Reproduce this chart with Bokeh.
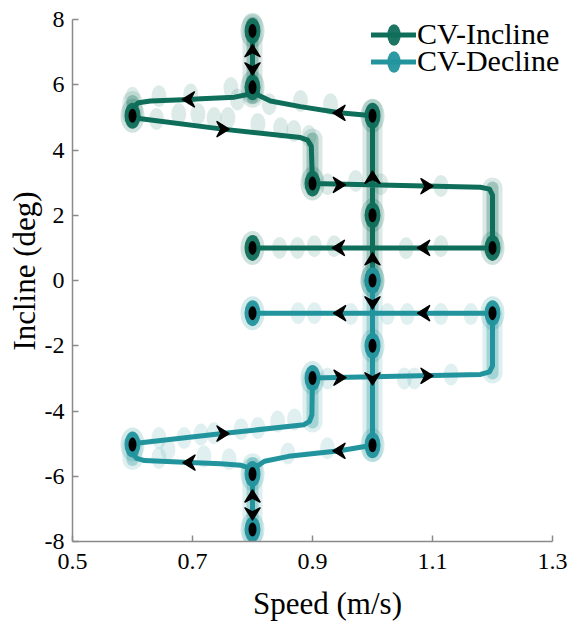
from bokeh.plotting import figure
from bokeh.models import (Legend, LegendItem, Range1d, FixedTicker)
from bokeh.embed import file_html
from bokeh.resources import INLINE

# ---------------- data ----------------
x_ticks = [0.5, 0.7, 0.9, 1.1, 1.3]
x_tick_labels = ["0.5", "0.7", "0.9", "1.1", "1.3"]
y_ticks = [-8, -6, -4, -2, 0, 2, 4, 6, 8]
y_tick_labels = ["-8", "-6", "-4", "-2", "0", "2", "4", "6", "8"]

series_names = ["CV-Incline", "CV-Decline"]

# trajectory of the CV-Incline condition (speed m/s, incline deg)
inc_path_x = [1.0, 1.0, 1.0, 0.945, 0.88, 0.83, 0.81, 0.8, 0.8, 0.8, 0.792, 0.77, 0.714,
              0.694, 0.63, 0.61, 0.601, 0.6, 0.614, 0.75, 0.88, 0.892, 0.898, 0.9,
              1.18, 1.195, 1.2, 1.2, 1.0, 0.8]
inc_path_y = [0.0, 2.0, 5.05, 5.14, 5.33, 5.5, 5.68, 5.92, 7.65, 5.92, 5.7, 5.62, 5.57,
              5.55, 5.5, 5.45, 5.3, 5.05, 4.96, 4.64, 4.38, 4.3, 4.12, 2.97,
              2.86, 2.8, 2.62, 1.0, 1.0, 1.0]

# trajectory of the CV-Decline condition
dec_path_x = [1.0, 1.0, 1.0, 0.945, 0.86, 0.82, 0.803, 0.8, 0.8, 0.8, 0.795, 0.78, 0.747,
              0.695, 0.62, 0.607, 0.6, 0.6, 0.614, 0.75, 0.886, 0.895, 0.899, 0.9,
              1.18, 1.195, 1.2, 1.2, 1.0, 0.8]
dec_path_y = [0.0, -2.0, -5.05, -5.22, -5.39, -5.54, -5.75, -5.93, -7.63, -5.93, -5.75,
              -5.66, -5.62, -5.58, -5.52, -5.45, -5.3, -5.03, -4.97, -4.69, -4.42, -4.32,
              -4.12, -2.99, -2.88, -2.8, -2.62, -1.0, -1.0, -1.0]

# condition set-points (big dots)
inc_dot_x = [1.0, 1.0, 1.0, 0.8, 0.8, 0.6, 0.9, 1.2, 0.8]
inc_dot_y = [0.0, 2.0, 5.05, 5.92, 7.65, 5.05, 2.97, 1.0, 1.0]
dec_dot_x = [1.0, 1.0, 1.0, 0.8, 0.8, 0.6, 0.9, 1.2, 0.8]
dec_dot_y = [0.0, -2.0, -5.05, -5.93, -7.63, -5.03, -2.99, -1.0, -1.0]

# transition periods where many samples pile up (speed, incline from, incline to)
inc_band_x = [1.0, 0.8, 1.2, 0.9, 0.6]
inc_band_y0 = [0.0, 5.6, 1.0, 2.97, 5.05]
inc_band_y1 = [5.25, 7.9, 2.85, 4.35, 5.5]
dec_band_x = [1.0, 0.8, 1.2, 0.9, 0.6]
dec_band_y0 = [0.0, -5.6, -1.0, -2.99, -5.03]
dec_band_y1 = [-5.25, -7.8, -2.85, -4.35, -5.5]

# individual faint samples
inc_cloud_x = [0.60, 0.644, 0.697, 0.764, 0.775, 0.64, 0.677, 0.709, 0.736, 0.759, 0.809,
               0.847, 0.869, 0.894, 0.828, 0.88, 0.93, 0.925, 0.972, 1.014, 1.114,
               0.845, 0.875, 0.903, 0.936, 1.056, 1.114]
inc_cloud_y = [5.6, 5.65, 5.7, 5.9, 5.55, 4.95, 5.1, 5.1, 4.98, 4.98, 4.8,
               4.67, 4.58, 4.43, 5.4, 5.5, 5.4, 2.95, 3.05, 2.95, 2.9,
               1.0, 1.0, 1.05, 1.05, 0.99, 1.05]
dec_cloud_x = [0.644, 0.659, 0.686, 0.714, 0.736, 0.781, 0.809, 0.842, 0.87, 0.719,
               0.761, 0.859, 0.925, 0.644, 0.876, 0.903, 0.964, 1.025, 1.058, 1.114,
               1.164, 0.925, 1.053, 1.07, 1.131]
dec_cloud_y = [-4.83, -5.18, -4.83, -4.72, -4.68, -4.56, -4.52, -4.32, -4.26, -5.39,
               -5.48, -5.3, -5.14, -5.44, -1.0, -1.0, -1.03, -1.03, -1.03, -1.03,
               -1.03, -3.0, -3.0, -3.0, -2.88]

# direction arrows: position and direction (dx, dy)
inc_arrow_x = [1.0, 1.0, 0.945, 0.8, 0.8, 0.694, 0.75, 0.944, 1.09, 1.086, 0.944]
inc_arrow_y = [0.65, 3.15, 5.14, 7.03, 6.5, 5.55, 4.64, 2.93, 2.89, 1.0, 1.0]
inc_arrow_dx = [0, 0, -1, 0, 0, -1, 1, 1, 1, -1, -1]
inc_arrow_dy = [1, 1, 0, 1, -1, 0, 0, 0, 0, 0, 0]
dec_arrow_x = [1.0, 1.0, 0.945, 0.8, 0.8, 0.695, 0.75, 0.945, 1.09, 1.086, 0.946]
dec_arrow_y = [-0.67, -3.0, -5.22, -6.62, -7.14, -5.58, -4.69, -2.98, -2.92, -1.0, -1.0]
dec_arrow_dx = [0, 0, -1, 0, 0, -1, 1, 1, 1, -1, -1]
dec_arrow_dy = [-1, -1, 0, 1, -1, 0, 0, 0, 0, 0, 0]

# ---------------- styling ----------------
GREEN = "#0F6E5A"
TEAL = "#22949D"
SERIF = "Liberation Serif"

PX_PER_X = 600.0                    # screen pixels per m/s
PX_PER_Y = 32.625                   # screen pixels per degree
FRAME_W, FRAME_H = 510, 541
# frame runs past the last ticks so that the legend and top marks are not clipped
X_START = x_ticks[0]
X_END = X_START + FRAME_W / PX_PER_X
Y_START = y_ticks[0]
Y_END = Y_START + FRAME_H / PX_PER_Y

p = figure(width=582, height=631, x_range=Range1d(X_START, X_END),
           y_range=Range1d(Y_START, Y_END),
           output_backend="svg", toolbar_location=None,
           min_border_left=72, min_border_right=0, min_border_top=0,
           min_border_bottom=90)
p.xgrid.visible = False
p.ygrid.visible = False
p.outline_line_color = None
p.background_fill_color = "white"
p.border_fill_color = "white"

p.xaxis.ticker = FixedTicker(ticks=x_ticks)
p.yaxis.ticker = FixedTicker(ticks=y_ticks)
p.xaxis.bounds = (x_ticks[0], x_ticks[-1])
p.yaxis.bounds = (y_ticks[0], y_ticks[-1])
p.xaxis.major_label_overrides = {t: l for t, l in zip(x_ticks, x_tick_labels)}
p.yaxis.major_label_overrides = {t: l for t, l in zip(y_ticks, y_tick_labels)}
p.xaxis.axis_label = "Speed (m/s)"
p.yaxis.axis_label = "Incline (deg)"
for ax in (p.xaxis[0], p.yaxis[0]):
    ax.axis_line_color = "#8a8a8a"
    ax.axis_line_width = 1.5
    ax.major_tick_line_color = "#8a8a8a"
    ax.major_tick_line_width = 1.5
    ax.major_tick_in = 6
    ax.major_tick_out = 0
    ax.minor_tick_line_color = None
    ax.major_label_text_font = SERIF
    ax.major_label_text_font_size = "24px"
    ax.major_label_text_font_style = "normal"
    ax.major_label_text_color = "black"
    ax.axis_label_text_font = SERIF
    ax.axis_label_text_font_size = "31px"
    ax.axis_label_text_font_style = "normal"
    ax.axis_label_text_color = "black"
p.xaxis.major_label_standoff = 12
p.yaxis.major_label_standoff = 8
p.xaxis.axis_label_standoff = 14
p.yaxis.axis_label_standoff = 0

renderers = {}
series = [
    ("inc", GREEN, inc_path_x, inc_path_y, inc_dot_x, inc_dot_y, inc_band_x, inc_band_y0,
     inc_band_y1, inc_cloud_x, inc_cloud_y),
    ("dec", TEAL, dec_path_x, dec_path_y, dec_dot_x, dec_dot_y, dec_band_x, dec_band_y0,
     dec_band_y1, dec_cloud_x, dec_cloud_y),
]

# faint sample clouds and transition bands
for key, col, px, py, dx, dy, bx, by0, by1, cx, cy in series:
    p.ellipse(x=cx, y=cy, width=15, height=22, width_units="screen", height_units="screen",
              fill_color=col, fill_alpha=0.14, line_color=None)
    p.segment(x0=bx, y0=by0, x1=bx, y1=by1, line_color=col, line_width=20,
              line_alpha=0.15, line_cap="round")
    p.segment(x0=bx, y0=by0, x1=bx, y1=by1, line_color=col, line_width=12,
              line_alpha=0.3, line_cap="round")

# trajectories and set-points
for key, col, px, py, dx, dy, bx, by0, by1, cx, cy in series:
    ln = p.line(px, py, line_color=col, line_width=5, line_join="round", line_cap="round")
    p.ellipse(x=dx, y=dy, width=24, height=34, width_units="screen", height_units="screen",
              fill_color=col, fill_alpha=0.2, line_color=None)
    dots = p.ellipse(x=dx, y=dy, width=16, height=26, width_units="screen",
                     height_units="screen", fill_color=col, fill_alpha=0.95, line_color=None)
    p.ellipse(x=dx, y=dy, width=8, height=14, width_units="screen", height_units="screen",
              fill_color="black", line_color=None)
    renderers[key] = (ln, dots)

# arrow heads (chevrons) built around each arrow position, sized in screen pixels
HEAD = [(6.5, 0.0), (-5.5, 7.5), (-1.5, 0.0), (-5.5, -7.5)]
hx, hy = [], []
for ax_, ay_, adx, ady in [(inc_arrow_x, inc_arrow_y, inc_arrow_dx, inc_arrow_dy),
                           (dec_arrow_x, dec_arrow_y, dec_arrow_dx, dec_arrow_dy)]:
    for x, y, ux, uy in zip(ax_, ay_, adx, ady):
        hx.append([x + (a * ux - b * uy) / PX_PER_X for a, b in HEAD])
        hy.append([y + (a * uy + b * ux) / PX_PER_Y for a, b in HEAD])
p.patches(hx, hy, fill_color="black", line_color="black", line_width=1.5,
          line_join="round")

# one legend per entry so that the two rows sit as close as in the reference
for name, key, loc in [(series_names[0], "inc", (299, 490)),
                       (series_names[1], "dec", (299, 463))]:
    lg = Legend(items=[LegendItem(label=name, renderers=list(renderers[key]))],
                location=loc)
    lg.label_text_font = SERIF
    lg.label_text_font_size = "30px"
    lg.label_text_color = "black"
    lg.glyph_width = 45
    lg.glyph_height = 27
    lg.label_standoff = 1
    lg.spacing = 0
    lg.padding = 0
    lg.margin = 0
    lg.border_line_color = None
    lg.background_fill_alpha = 0
    p.add_layout(lg)

open("out.html", "w").write(file_html(p, INLINE))
